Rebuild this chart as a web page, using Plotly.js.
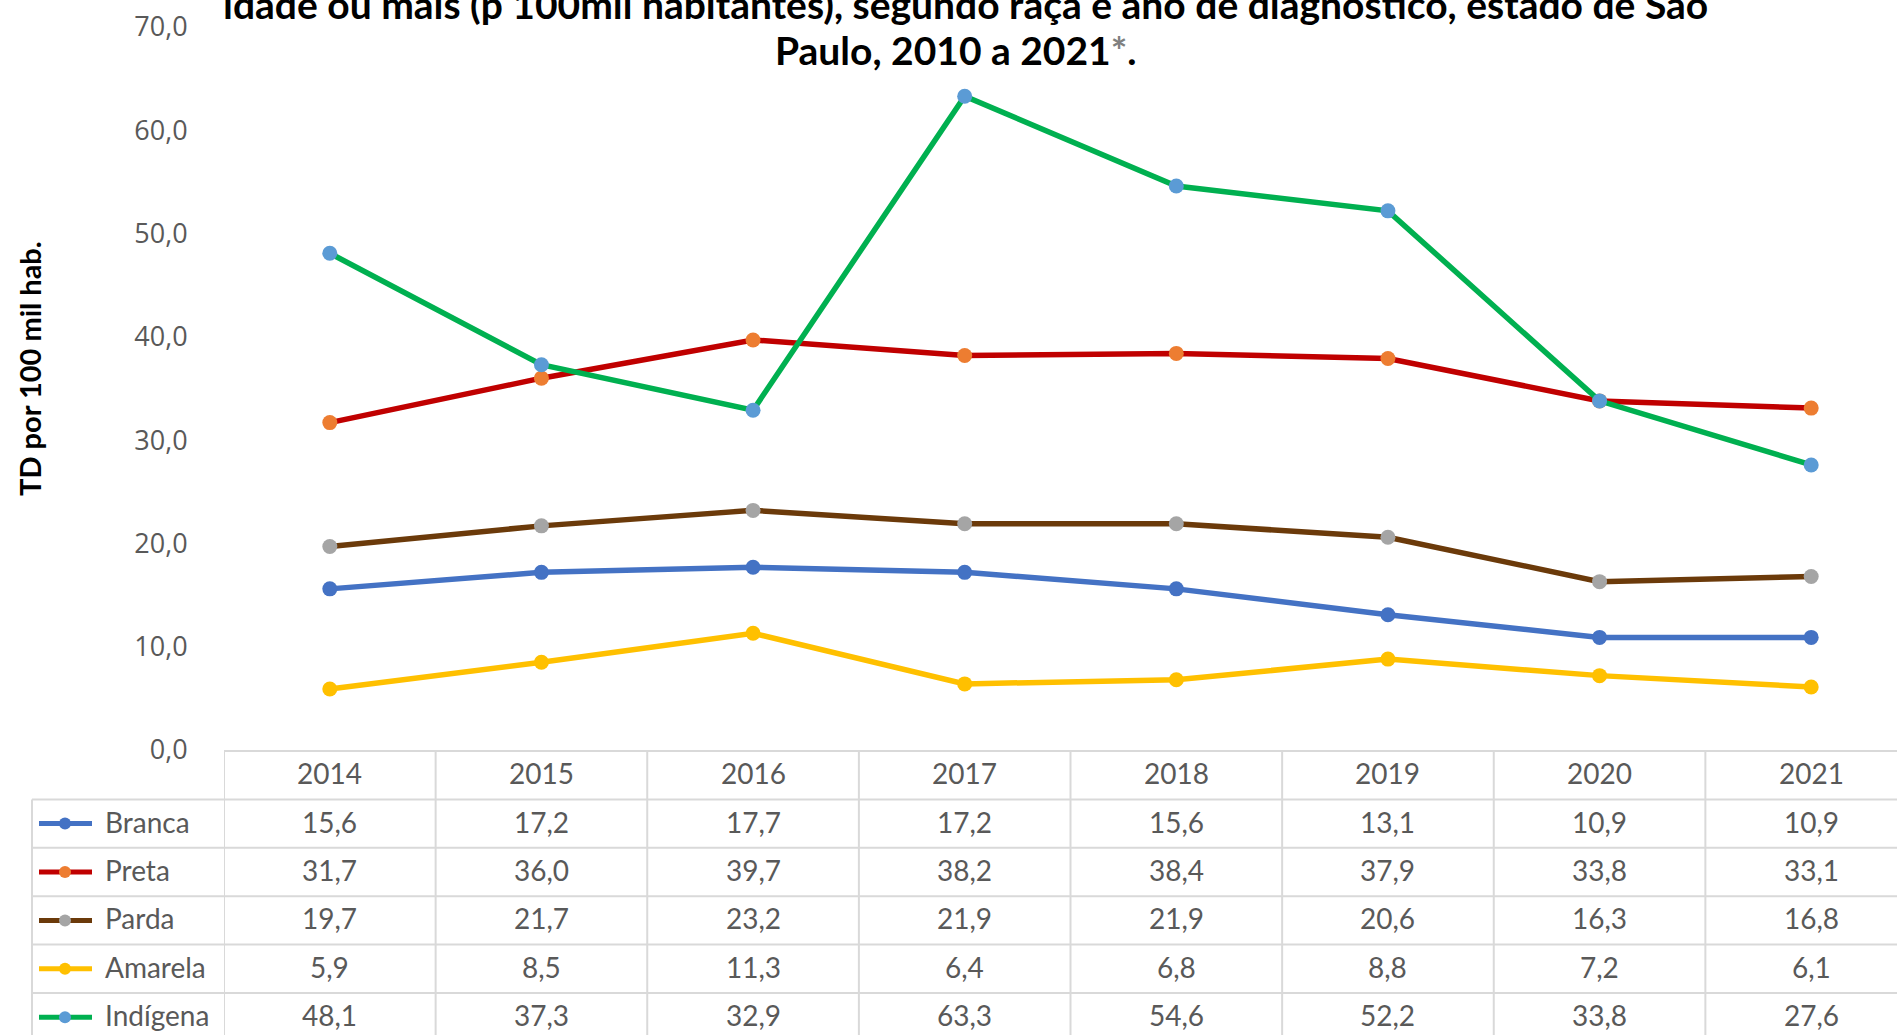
<!DOCTYPE html>
<html>
<head>
<meta charset="utf-8">
<script src="https://cdn.plot.ly/plotly-3.0.1.min.js"></script>
<style>
html,body{margin:0;padding:0;overflow:hidden;background:#fff;}
#chart{width:1920px;height:1035px;}
</style>
</head>
<body>
<div id="chart"></div>
<script>
// ---- data ----
const years = ["2014","2015","2016","2017","2018","2019","2020","2021"];
const seriesNames = ["Branca","Preta","Parda","Amarela","Indígena"];
const branca   = [15.6, 17.2, 17.7, 17.2, 15.6, 13.1, 10.9, 10.9];
const preta    = [31.7, 36.0, 39.7, 38.2, 38.4, 37.9, 33.8, 33.1];
const parda    = [19.7, 21.7, 23.2, 21.9, 21.9, 20.6, 16.3, 16.8];
const amarela  = [5.9, 8.5, 11.3, 6.4, 6.8, 8.8, 7.2, 6.1];
const indigena = [48.1, 37.3, 32.9, 63.3, 54.6, 52.2, 33.8, 27.6];
const yTicks = [0, 10, 20, 30, 40, 50, 60, 70];
const titleLine1 = "idade ou mais (p 100mil habitantes), segundo raça e ano de diagnóstico, estado de São";
const titleLine2 = "Paulo, 2010 a 2021";
const yTitle = "TD por 100 mil hab.";

const allSeries = [branca, preta, parda, amarela, indigena];
const lineColors = ["#4472C4", "#C00000", "#6B3A0A", "#FFC000", "#00B050"];
const markerColors = ["#4472C4", "#ED7D31", "#A5A5A5", "#FFC000", "#5B9BD5"];

// ---- geometry helpers (pixels -> paper) ----
const W = 1920, H = 1035;
const L = 224, R = 1917, T = 27, B = 750;
const px2x = px => (px - L) / (R - L);
const py2y = py => (B - py) / (B - T);
const fmt = v => v.toFixed(1).replace('.', ',');

const xIdx = years.map((_, i) => i);

const traces = allSeries.map((vals, s) => ({
  type: 'scatter',
  mode: 'lines+markers',
  x: xIdx,
  y: vals,
  name: seriesNames[s],
  line: {color: lineColors[s], width: 5.5},
  marker: {color: markerColors[s], size: 15, line: {width: 0}},
  hoverinfo: 'skip',
  showlegend: false
}));

const gridColor = "#D9D9D9";
const shapes = [];
const annotations = [];
const TB = 751;       // table top
const rowH = 48.4;
const textShift = -2; // text baseline tweak
const tableFont = {family: "Lato, 'Open Sans', sans-serif", size: 28, color: "#595959"};

// header top line
shapes.push({type:'line', xref:'paper', yref:'paper', x0: 0, x1: 1, y0: py2y(TB), y1: py2y(TB), line:{color:gridColor, width:2}});
// row lines
for (let r = 1; r <= seriesNames.length; r++) {
  const py = TB + r * rowH;
  shapes.push({type:'line', xref:'paper', yref:'paper', x0: px2x(32), x1: 1, y0: py2y(py), y1: py2y(py), line:{color:gridColor, width:2}});
}
// vertical lines
for (let k = 0; k <= years.length; k++) {
  shapes.push({type:'line', xref:'x', yref:'paper', x0: k - 0.5, x1: k - 0.5, y0: py2y(TB), y1: py2y(H + 20), line:{color:gridColor, width:2}});
}
shapes.push({type:'line', xref:'paper', yref:'paper', x0: px2x(32), x1: px2x(32), y0: py2y(TB + rowH), y1: py2y(H + 20), line:{color:gridColor, width:2}});

// header years
years.forEach((yr, i) => {
  annotations.push({xref:'x', yref:'paper', x: i, y: py2y(TB + rowH / 2 + textShift), text: yr, showarrow:false, font: tableFont, xanchor:'center', yanchor:'middle'});
});
// rows
seriesNames.forEach((nm, s) => {
  const cy = TB + rowH * (s + 1.5);
  // legend symbol
  shapes.push({type:'line', xref:'paper', yref:'paper', x0: px2x(39), x1: px2x(92), y0: py2y(cy), y1: py2y(cy), line:{color: lineColors[s], width:5}});
  shapes.push({type:'circle', xref:'paper', yref:'paper', xsizemode:'pixel', ysizemode:'pixel',
    xanchor: px2x(65), yanchor: py2y(cy), x0: -6, x1: 6, y0: -6, y1: 6,
    fillcolor: markerColors[s], line:{width:0}});
  annotations.push({xref:'paper', yref:'paper', x: px2x(103), y: py2y(cy + textShift), text: nm, showarrow:false, font: tableFont, xanchor:'left', yanchor:'middle'});
  allSeries[s].forEach((v, i) => {
    annotations.push({xref:'x', yref:'paper', x: i, y: py2y(cy + textShift), text: fmt(v), showarrow:false, font: tableFont, xanchor:'center', yanchor:'middle'});
  });
});

// title
const titleFont = {family: "Lato, 'Open Sans', sans-serif", size: 39, color: "#000000"};
annotations.push({xref:'paper', yref:'paper', x: px2x(965), y: py2y(4), text: "<b>" + titleLine1 + "</b>", showarrow:false, font: titleFont, xanchor:'center', yanchor:'middle'});
annotations.push({xref:'paper', yref:'paper', x: px2x(956), y: py2y(50), text: "<b>" + titleLine2 + "<span style='color:#7F7F7F'>*</span>.</b>", showarrow:false, font: titleFont, xanchor:'center', yanchor:'middle'});

// y title
annotations.push({xref:'paper', yref:'paper', x: px2x(29), y: py2y(369), text: "<b>" + yTitle + "</b>", textangle: -90, showarrow:false,
  font: {family: "Lato, 'Open Sans', sans-serif", size: 29, color: "#000000"}, xanchor:'center', yanchor:'middle'});

const layout = {
  width: W, height: H,
  margin: {l: L, r: W - R, t: T, b: H - B, pad: 0},
  paper_bgcolor: '#ffffff', plot_bgcolor: '#ffffff',
  separators: ',.',
  showlegend: false,
  xaxis: {range: [-0.5, years.length - 0.5], showticklabels: false, showgrid: false, zeroline: false, showline: false, ticks: ''},
  yaxis: {range: [0, 70], tickvals: yTicks, ticktext: yTicks.map(fmt), showgrid: false, zeroline: false, showline: false,
    ticks: 'outside', ticklen: 30, tickcolor: 'rgba(0,0,0,0)',
    tickfont: {family: "'Open Sans', sans-serif", size: 27, color: "#595959"}},
  shapes: shapes,
  annotations: annotations
};

Plotly.newPlot('chart', traces, layout, {displayModeBar: false, staticPlot: true});
</script>
</body>
</html>
